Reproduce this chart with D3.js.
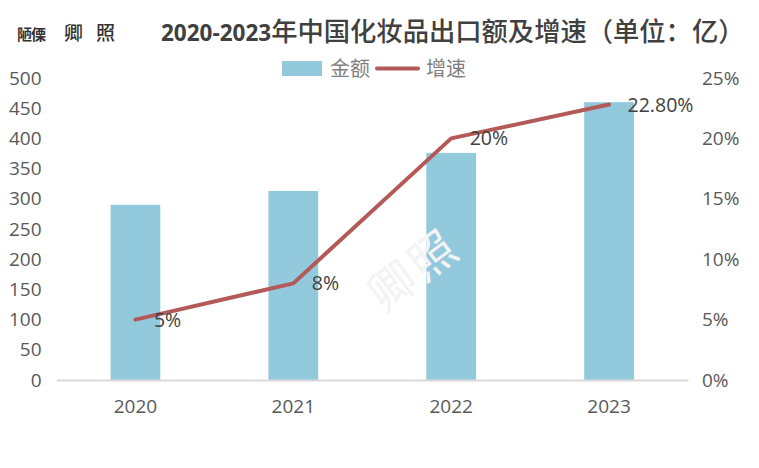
<!DOCTYPE html>
<html>
<head>
<meta charset="utf-8">
<script src="https://cdn.jsdelivr.net/npm/d3@7/dist/d3.min.js"></script>
<style>
  html, body { margin: 0; padding: 0; background: #fff; }
  svg { display: block; }
  text { font-family: "Open Sans", "Noto Sans CJK SC", sans-serif; }
</style>
</head>
<body>
<svg id="chart"></svg>
<script>
const years = ["2020", "2021", "2022", "2023"];
const amounts = [290, 313, 376, 460];
const growth = [5, 8, 20, 22.8];
const growthLabels = ["5%", "8%", "20%", "22.80%"];
const leftTicks = [0, 50, 100, 150, 200, 250, 300, 350, 400, 450, 500];
const rightTicks = [0, 5, 10, 15, 20, 25];

const WIDTH = 759;
const HEIGHT = 468;
const X0 = 56.5;
const X1 = 688;
const Y0 = 380;
const Y1 = 78;
const CJK = '"Noto Sans CJK SC", sans-serif';

const svg = d3.select("#chart").attr("width", WIDTH).attr("height", HEIGHT);

const xScale = d3.scaleBand().domain(years).range([X0, X1]).paddingInner(0.685).paddingOuter(0.3425);
const yLeft = d3.scaleLinear().domain([0, 500]).range([Y0, Y1]);
const yRight = d3.scaleLinear().domain([0, 25]).range([Y0, Y1]);
const center = d => xScale(d) + xScale.bandwidth() / 2;

// bars
svg.selectAll("rect.bar")
   .data(years)
   .enter()
   .append("rect")
   .attr("class", "bar")
   .attr("x", d => xScale(d))
   .attr("y", (_, i) => yLeft(amounts[i]))
   .attr("width", xScale.bandwidth())
   .attr("height", (_, i) => Y0 - yLeft(amounts[i]))
   .attr("fill", "#92c9dc");

// watermark sits over the bars, under the line
const mark = svg.append("g").attr("transform", "translate(414,270) rotate(-37)");
mark.append("text")
   .attr("text-anchor", "middle")
   .attr("y", 16)
   .attr("fill", "#f3f3f3")
   .style("font-family", CJK)
   .style("font-size", "46px")
   .style("letter-spacing", "4px")
   .text("卿照");

// axes
const axisLeft = svg.append("g")
   .attr("transform", `translate(${X0 - 15},0)`)
   .call(d3.axisLeft(yLeft).tickValues(leftTicks).tickSize(0).tickPadding(0));
const axisRight = svg.append("g")
   .attr("transform", `translate(${X1 + 14},0)`)
   .call(d3.axisRight(yRight).tickValues(rightTicks).tickSize(0).tickPadding(0).tickFormat(d => d + "%"));
const axisBottom = svg.append("g")
   .attr("transform", `translate(0,${Y0})`)
   .call(d3.axisBottom(xScale).tickSize(0).tickPadding(20));

[axisLeft, axisRight, axisBottom].forEach(a => {
   a.selectAll("text")
      .attr("fill", "#595959")
      .style("font-size", "19px")
      .style("font-family", '"Open Sans", sans-serif');
});
axisLeft.select(".domain").remove();
axisRight.select(".domain").remove();
axisBottom.select(".domain").attr("stroke", "#d9d9d9").attr("stroke-width", 2);

// growth line
const line = d3.line()
   .x(d => center(d))
   .y((_, i) => yRight(growth[i]));

svg.append("path")
   .datum(years)
   .attr("d", line)
   .attr("fill", "none")
   .attr("stroke", "#b35a58")
   .attr("stroke-width", 4)
   .attr("stroke-linecap", "round")
   .attr("stroke-linejoin", "round");

svg.selectAll("text.label")
   .data(years)
   .enter()
   .append("text")
   .attr("class", "label")
   .attr("x", d => center(d) + 18.5)
   .attr("y", (_, i) => yRight(growth[i]) + 7)
   .attr("fill", "#404040")
   .style("font-size", "19.5px")
   .text((_, i) => growthLabels[i]);

// title
const title = svg.append("text")
   .attr("x", 161)
   .attr("y", 41)
   .attr("fill", "#404040");
title.append("tspan").style("font-weight", 700).style("font-size", "22.5px").text("2020-2023");
title.append("tspan").style("font-family", CJK).style("font-weight", 500).style("font-size", "26.3px").text("年中国化妆品出口额及增速（单位：亿）");

// legend
svg.append("rect")
   .attr("x", 282).attr("y", 61).attr("width", 40).attr("height", 15)
   .attr("fill", "#92c9dc");
svg.append("text")
   .attr("x", 330).attr("y", 76)
   .attr("fill", "#7f7f7f")
   .style("font-family", CJK)
   .style("font-size", "20px")
   .text("金额");
svg.append("line")
   .attr("x1", 377).attr("x2", 418).attr("y1", 68.5).attr("y2", 68.5)
   .attr("stroke", "#b35a58").attr("stroke-width", 4).attr("stroke-linecap", "round");
svg.append("text")
   .attr("x", 426).attr("y", 76)
   .attr("fill", "#7f7f7f")
   .style("font-family", CJK)
   .style("font-size", "20px")
   .text("增速");

// corner watermark
svg.append("text")
   .attr("x", 17).attr("y", 40)
   .attr("fill", "#333333")
   .style("font-family", CJK)
   .style("font-size", "15px")
   .style("font-weight", 700)
   .style("letter-spacing", "-1px")
   .text("陋傈");
svg.append("text")
   .attr("x", 64).attr("y", 40)
   .attr("fill", "#333333")
   .style("font-family", CJK)
   .style("font-size", "19px")
   .style("font-weight", 500)
   .text("卿");
svg.append("text")
   .attr("x", 96).attr("y", 40)
   .attr("fill", "#333333")
   .style("font-family", CJK)
   .style("font-size", "19px")
   .style("font-weight", 500)
   .text("照");
</script>
</body>
</html>
